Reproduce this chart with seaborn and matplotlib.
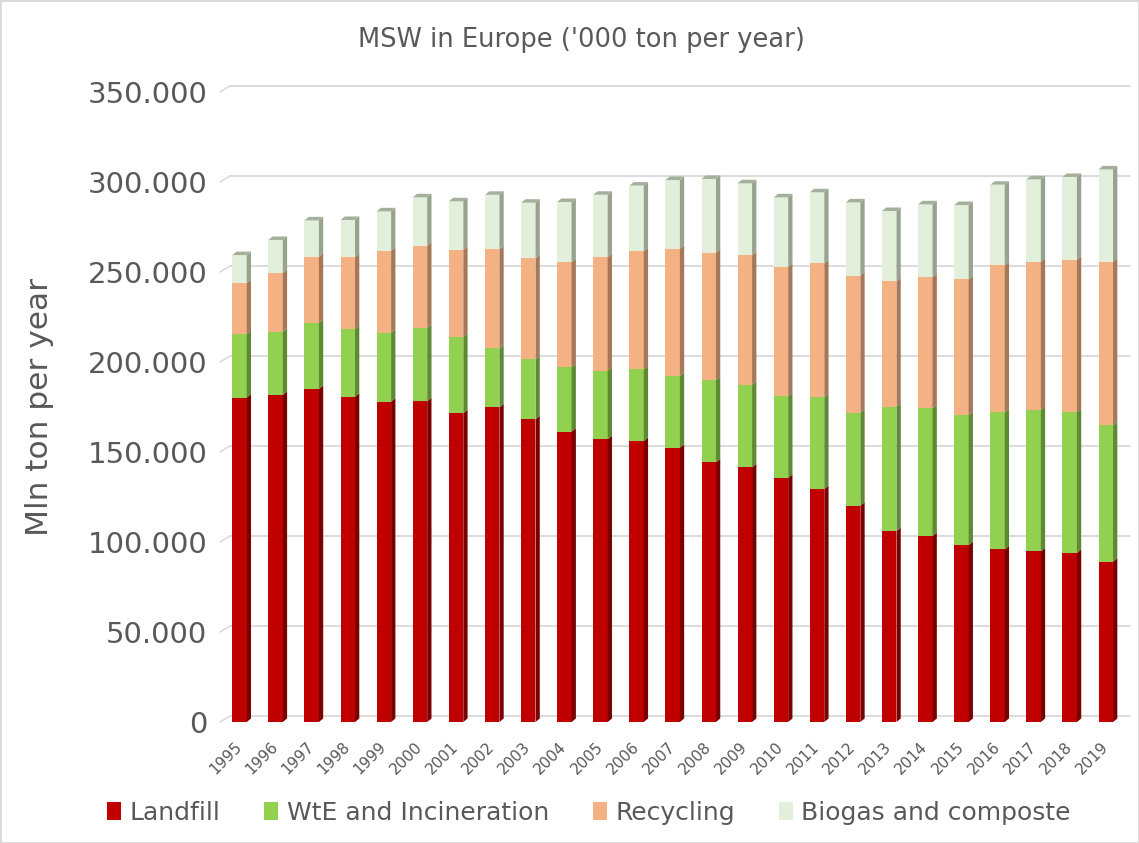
import matplotlib
matplotlib.use("Agg")
import matplotlib.pyplot as plt
import seaborn as sns
import pandas as pd
from matplotlib.patches import Polygon, Patch, Rectangle
from matplotlib.ticker import FuncFormatter

# ---- data ('000 ton per year) ----
years = ["1995", "1996", "1997", "1998", "1999", "2000", "2001", "2002", "2003",
         "2004", "2005", "2006", "2007", "2008", "2009", "2010", "2011", "2012",
         "2013", "2014", "2015", "2016", "2017", "2018", "2019"]
landfill = [180200, 181700, 185000, 180700, 178000, 178200, 171500, 174800, 168200,
            161300, 157100, 156100, 152400, 144300, 141500, 135600, 129400, 120200,
            106100, 103300, 98300, 95900, 94800, 93900, 89100]
wte = [35200, 35100, 36700, 37600, 38300, 40700, 42400, 32800, 33300,
       35800, 38100, 39800, 39800, 45700, 45900, 45500, 51000, 51600,
       69100, 71000, 72300, 76300, 78500, 78300, 75700]
recycling = [28300, 32600, 36800, 40000, 45400, 45700, 48300, 55000, 56100,
             58300, 63100, 65600, 70700, 70700, 71900, 71800, 74400, 76200,
             69600, 72800, 75300, 81500, 82400, 84600, 90800]
biogas = [15700, 18400, 20200, 20600, 22000, 26900, 27100, 30300, 30900,
          33500, 34600, 36500, 38200, 41000, 40000, 38600, 39500, 40700,
          39100, 40500, 41300, 44800, 45800, 46000, 51400]
series = ["Landfill", "WtE and Incineration", "Recycling", "Biogas and composte"]

front = ["#C00000", "#92D050", "#F4B183", "#E2EFDA"]
side = ["#7A0000", "#5E8A34", "#A6785A", "#97A38F"]
top_col = "#A5B09C"
txt = "#595959"
grid = "#D9D9D9"

df = pd.DataFrame({"year": years, "Landfill": landfill, "WtE and Incineration": wte,
                   "Recycling": recycling, "Biogas and composte": biogas})
cum = df[series].cumsum(axis=1)
cum["year"] = years

sns.set_theme(style="white")
plt.rcParams["font.family"] = ["DejaVu Sans"]

W, H = 1139, 843
fig = plt.figure(figsize=(W / 100, H / 100), dpi=100)
ax_l, ax_r, ax_b, ax_t = 220, 1130, 722, 92
ax = fig.add_axes([ax_l / W, (H - ax_b) / H, (ax_r - ax_l) / W, (ax_b - ax_t) / H])

bw = 0.4
# draw cumulative layers, tallest first so each lower segment sits in front
for i in range(3, -1, -1):
    sns.barplot(data=cum, x="year", y=series[i], order=years, color=front[i],
                saturation=1, width=bw, errorbar=None, linewidth=0, ax=ax, zorder=3)

xlim = (-0.54, 24.67)
ylim = (0, 350000)
ax.set_xlim(*xlim)
ax.set_ylim(*ylim)

# pixel -> data conversions for the pseudo-3D depth
pxx = (ax_r - ax_l) / (xlim[1] - xlim[0])
pxy = (ax_b - ax_t) / (ylim[1] - ylim[0])
ddx, ddy = 4.3 / pxx, 3.5 / pxy

# side faces and top face of each column
for k in range(len(years)):
    xr = k + bw / 2
    y0 = 0
    for i, s in enumerate(series):
        y1 = y0 + df[s][k]
        ax.add_patch(Polygon([(xr, y0), (xr + ddx, y0 + ddy), (xr + ddx, y1 + ddy), (xr, y1)],
                             closed=True, facecolor=side[i], edgecolor="none", zorder=3))
        y0 = y1
    xl = k - bw / 2
    ax.add_patch(Polygon([(xl, y0), (xr, y0), (xr + ddx, y0 + ddy), (xl + ddx, y0 + ddy)],
                         closed=True, facecolor=top_col, edgecolor="none", zorder=3))

# back-wall gridlines with the little wall edge on the left
ticks = [0, 50000, 100000, 150000, 200000, 250000, 300000, 350000]
gdx, gdy = 10 / pxx, 6 / pxy
for v in ticks:
    ax.plot([xlim[0] + gdx, xlim[1]], [v + gdy, v + gdy], color=grid, lw=1.3, zorder=0, clip_on=False)
    ax.plot([xlim[0], xlim[0] + gdx], [v, v + gdy], color=grid, lw=1.1, zorder=0, clip_on=False)

for sp in ax.spines.values():
    sp.set_visible(False)
ax.grid(False)

ax.set_yticks(ticks)
ax.yaxis.set_major_formatter(FuncFormatter(lambda v, p: f"{int(v):,}".replace(",", ".")))
ax.tick_params(axis="y", length=0, pad=9, labelsize=21, labelcolor=txt)
ax.tick_params(axis="x", length=0, pad=16, labelsize=11, labelcolor=txt)
plt.setp(ax.get_xticklabels(), rotation=45, ha="right", va="center", rotation_mode="anchor")

ax.set_xlabel("")
ax.set_ylabel("Mln ton per year", fontsize=22.5, color=txt)
ax.yaxis.set_label_coords((54 - ax_l) / (ax_r - ax_l), 0.5)

fig.text(581 / W, 1 - 40 / H, "MSW in Europe ('000 ton per year)", ha="center", va="center",
         fontsize=18.5, color=txt)

handles = [Patch(facecolor=front[i], edgecolor="none", label=series[i]) for i in range(4)]
fig.legend(handles=handles, loc="center", bbox_to_anchor=(589 / W, 1 - 813 / H), ncol=4,
           frameon=False, fontsize=18, handlelength=0.55, handleheight=0.75,
           handletextpad=0.35, columnspacing=1.75, labelcolor=txt)

fig.patches.append(Rectangle((0, 0), 1, 1, transform=fig.transFigure, fill=False,
                             edgecolor=grid, lw=2))

fig.savefig("out.png", dpi=100)
